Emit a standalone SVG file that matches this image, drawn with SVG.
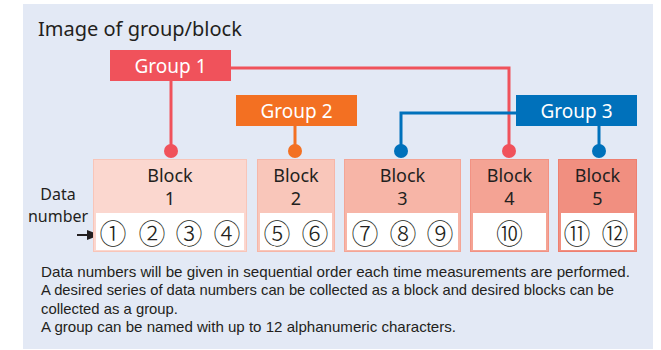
<svg xmlns="http://www.w3.org/2000/svg" width="661" height="350" viewBox="0 0 661 350">
<defs>
<style>
.title{font-family:"Noto Sans","Open Sans",sans-serif;font-size:20px;fill:#231f20}
.gtext{font-family:"Noto Sans","Open Sans",sans-serif;font-size:19px;fill:#ffffff;text-anchor:middle}
.btext{font-family:"Noto Sans","Open Sans",sans-serif;font-size:18px;fill:#231f20;text-anchor:middle}
.lbl{font-family:"Noto Sans","Open Sans",sans-serif;font-size:16px;fill:#231f20;text-anchor:middle}
.num{font-family:"Noto Sans CJK JP","DejaVu Sans",sans-serif;font-size:27px;font-weight:300;fill:#231f20;text-anchor:middle}
.note{font-family:"Liberation Sans",Arial,sans-serif;font-size:15px;fill:#231f20}
.white{fill:#ffffff}
.red{stroke:#f0525b;stroke-width:3;fill:none}
.org{stroke:#f37022;stroke-width:3;fill:none}
.blu{stroke:#0071bb;stroke-width:3;fill:none}
</style>
</defs>
<rect x="23" y="4" width="630" height="345" fill="#e3e9f5"/>
<text class="title" x="38" y="36">Image of group/block</text>

<g id="connectors">
<path class="red" d="M171,81 V151"/>
<path class="red" d="M231,68 H509 V151"/>
<circle cx="171" cy="151" r="7" fill="#f0525b"/>
<circle cx="509" cy="151" r="7" fill="#f0525b"/>
<path class="org" d="M295,126 V151"/>
<circle cx="295" cy="151" r="7" fill="#f37022"/>
<path class="blu" d="M516,113 H401 V151"/>
<path class="blu" d="M599,126 V151"/>
<circle cx="401" cy="151" r="7" fill="#0071bb"/>
<circle cx="599" cy="151" r="7" fill="#0071bb"/>
<line x1="77" y1="235" x2="90" y2="235" stroke="#231f20" stroke-width="2"/>
<path d="M87,230 L100,235 L87,240 z" fill="#231f20"/>
</g>

<g id="group1">
<rect x="110" y="50" width="121" height="31" fill="#f0525b"/>
<text class="gtext" x="170.5" y="73">Group 1</text>
</g>
<g id="group2">
<rect x="236" y="95" width="121" height="31" fill="#f37022"/>
<text class="gtext" x="296.5" y="118">Group 2</text>
</g>
<g id="group3">
<rect x="516" y="95" width="121" height="31" fill="#0071bb"/>
<text class="gtext" x="576.5" y="118">Group 3</text>
</g>

<g id="block1">
<rect x="93.5" y="159.5" width="153" height="92" fill="#fbd7cf" stroke="#f8c5b9"/>
<rect class="white" x="96" y="213" width="148" height="37"/>
<text class="btext" x="170" y="182">Block</text>
<text class="btext" x="170" y="205">1</text>
<text class="num" x="113" y="244">①</text>
<text class="num" x="152" y="244">②</text>
<text class="num" x="189" y="244">③</text>
<text class="num" x="227" y="244">④</text>
</g>
<g id="block2">
<rect x="257.5" y="159.5" width="77" height="92" fill="#f9c6ba" stroke="#f6b6a8"/>
<rect class="white" x="260" y="213" width="72" height="37"/>
<text class="btext" x="296" y="182">Block</text>
<text class="btext" x="296" y="205">2</text>
<text class="num" x="277" y="244">⑤</text>
<text class="num" x="315" y="244">⑥</text>
</g>
<g id="block3">
<rect x="344.5" y="159.5" width="116" height="92" fill="#f7b5a7" stroke="#f4a596"/>
<rect class="white" x="347" y="213" width="111" height="37"/>
<text class="btext" x="402.5" y="182">Block</text>
<text class="btext" x="402.5" y="205">3</text>
<text class="num" x="365" y="244">⑦</text>
<text class="num" x="403" y="244">⑧</text>
<text class="num" x="440" y="244">⑨</text>
</g>
<g id="block4">
<rect x="470.5" y="159.5" width="78" height="92" fill="#f4a394" stroke="#f29283"/>
<rect class="white" x="473" y="213" width="73" height="37"/>
<text class="btext" x="509.5" y="182">Block</text>
<text class="btext" x="509.5" y="205">4</text>
<text class="num" x="509.5" y="244">⑩</text>
</g>
<g id="block5">
<rect x="558.5" y="159.5" width="78" height="92" fill="#f18f80" stroke="#ee7f70"/>
<rect class="white" x="561" y="213" width="73" height="37"/>
<text class="btext" x="597.5" y="182">Block</text>
<text class="btext" x="597.5" y="205">5</text>
<text class="num" x="577" y="244">⑪</text>
<text class="num" x="615" y="244">⑫</text>
</g>

<g id="datalabel">
<text class="lbl" x="58" y="200">Data</text>
<text class="lbl" x="58" y="222">number</text>
</g>

<g id="notes">
<text class="note" x="41" y="277" textLength="589" lengthAdjust="spacingAndGlyphs">Data numbers will be given in sequential order each time measurements are performed.</text>
<text class="note" x="41" y="295" textLength="573" lengthAdjust="spacingAndGlyphs">A desired series of data numbers can be collected as a block and desired blocks can be</text>
<text class="note" x="41" y="314" textLength="137" lengthAdjust="spacingAndGlyphs">collected as a group.</text>
<text class="note" x="41" y="332" textLength="415" lengthAdjust="spacingAndGlyphs">A group can be named with up to 12 alphanumeric characters.</text>
</g>
</svg>
